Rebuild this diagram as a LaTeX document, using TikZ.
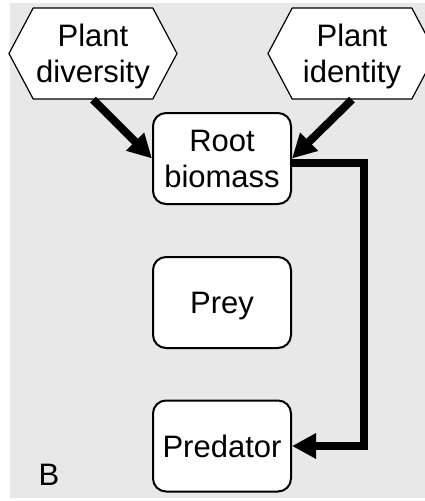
\documentclass[tikz,border=0pt]{standalone}
\usepackage{fontspec}
\setmainfont{Liberation Sans}
\usetikzlibrary{arrows.meta,shapes.symbols}
\definecolor{panelgray}{RGB}{232,232,232}

\begin{document}
\begin{tikzpicture}[x=1pt,y=-1pt,
  every node/.style={font=\fontsize{31}{36}\selectfont,align=center,text depth=0pt},
  factor node/.style={signal,signal to=west and east,signal pointer angle=124,draw,line width=1.2pt,fill=white,minimum width=168pt,minimum height=91pt,inner sep=0pt},
  main node/.style={rectangle,rounded corners=13pt,draw,line width=2pt,fill=white,minimum width=138pt,minimum height=91pt,inner sep=0pt},
  effect/.style={line width=8pt,-{Triangle[length=24pt,width=24pt]}}]

  \useasboundingbox (0,0) rectangle (425,501);
  \fill[panelgray] (10,3) rectangle (425,498);

  \node[factor node] (div) at (93,53.5) {Plant\\diversity};
  \node[factor node] (ident) at (352,53.5) {Plant\\identity};

  \node[main node] (root) at (222,158.5) {Root\\biomass};
  \node[main node] (prey) at (222,302.5) {Prey};
  \node[main node] (pred) at (222,446) {Predator};

  \node (panel) at (49,475) {B};

  \draw[effect] (div.south) -- (root.west);
  \draw[effect] (ident.south) -- (root.east);
  \draw[effect] ([yshift=-4pt]root.east) -- ++(72,0) |- (pred.east);
\end{tikzpicture}
\end{document}
